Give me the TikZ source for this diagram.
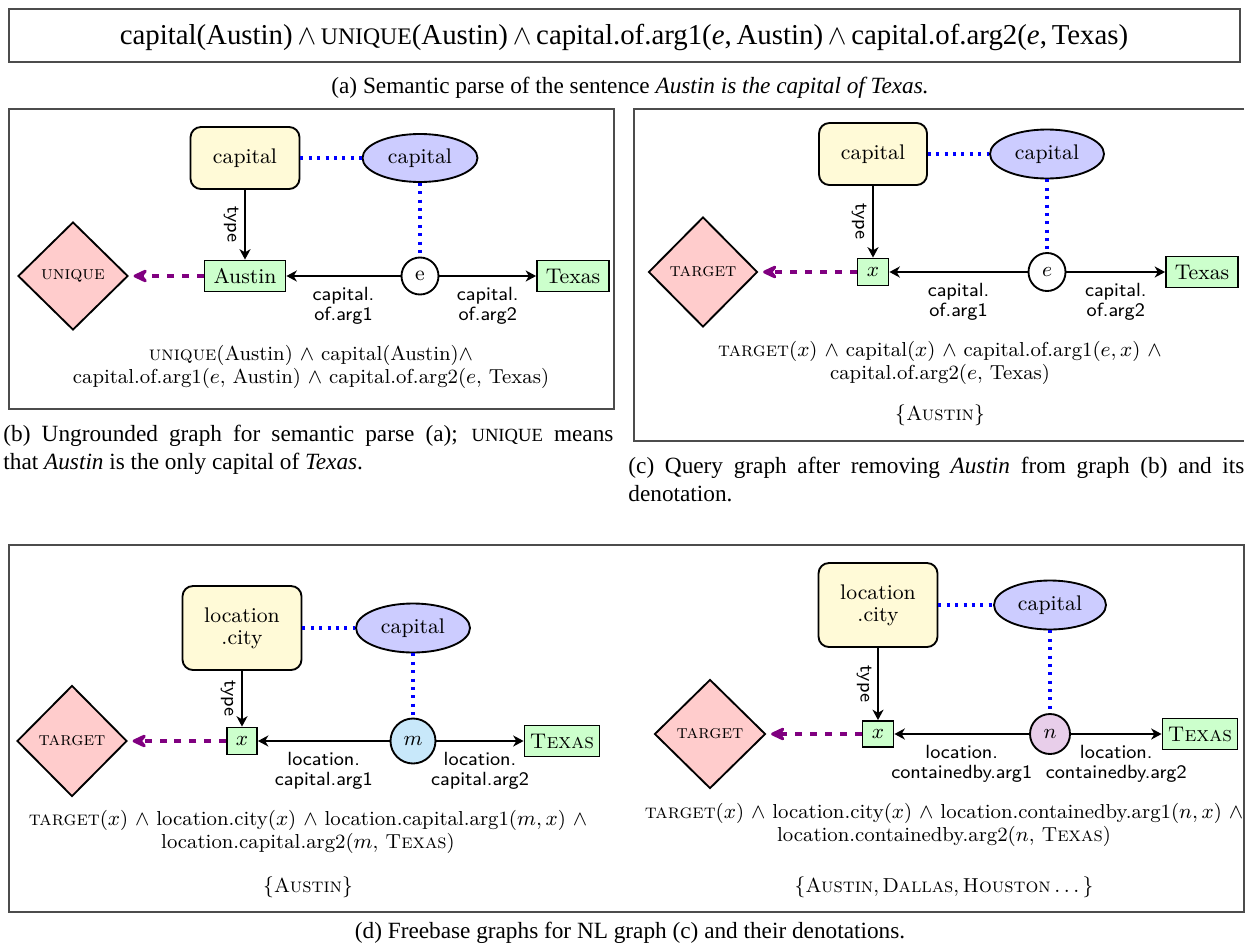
\documentclass[tikz,border=0pt]{standalone}
\usepackage{fontspec}
\newfontfamily\capfont{Liberation Serif}
\usetikzlibrary{shapes.geometric,arrows.meta}
\definecolor{ybox}{RGB}{255,250,215}
\definecolor{lav}{RGB}{204,204,255}
\definecolor{lgreen}{RGB}{204,255,204}
\definecolor{lpink}{RGB}{255,204,204}
\definecolor{lblue}{RGB}{200,232,250}
\definecolor{lpurple}{RGB}{232,206,234}
\definecolor{darkviolet}{RGB}{128,0,128}
\newcommand\nodefnt{\fontsize{9.1}{9.4}\selectfont}
\newcommand\formfnt{\fontsize{8.7}{9.6}\selectfont}
\newcommand\lblfnt{\sffamily\fontsize{8.2}{8.8}\selectfont}
\newcommand\capfnt{\capfont\fontsize{10}{12}\selectfont}
\newcommand\fsc[1]{{\fontsize{8}{12}\selectfont #1}}
\begin{document}
\begin{tikzpicture}[x=0.43pt,y=-0.43pt,
  sz/.style 2 args={minimum width=#1*0.43pt,minimum height=#2*0.43pt},
  basenode/.style={draw, line width=0.8pt, inner sep=0pt, font=\nodefnt, align=center},
  typebox/.style={basenode, rectangle, rounded corners=4.5pt, fill=ybox},
  relell/.style={basenode, ellipse, fill=lav},
  entbox/.style={basenode, rectangle, fill=lgreen},
  evnode/.style={basenode, ellipse},
  qdia/.style={basenode, diamond, fill=lpink},
  relarrow/.style={-{Stealth[length=4.5pt,width=4.8pt,inset=1.4pt]}, line width=0.6pt},
  dotblue/.style={blue, line width=1.4pt, dash pattern=on 1.3pt off 2.3pt},
  purparrow/.style={darkviolet, line width=1.6pt, dash pattern=on 3pt off 3.4pt, shorten >=2pt,
     -{Stealth[length=8pt,width=7.5pt,inset=3pt,round]}},
  elabel/.style={font=\lblfnt, align=center, below, inner sep=4.5pt},
  tlabel/.style={font=\lblfnt, sloped, below, inner sep=2.5pt},
  ftext/.style={font=\formfnt, align=center, inner sep=0pt},
  frm/.style={draw=black!70, line width=0.6pt},
  captxt/.style={font=\capfnt, inner sep=0pt}]
\useasboundingbox (0,0) rectangle (1245,948);
% ---------- (a) ----------
\draw[frm] (9,9) rectangle (1240,62);
\node[captxt] (a-form) at (624,37) {\capfont\fontsize{12.4}{14}\selectfont capital(Austin)\,$\wedge$\,{\fontsize{10.2}{12}\selectfont UNIQUE}(Austin)\,$\wedge$\,capital.of.arg1(\textit{e},\,Austin)\,$\wedge$\,capital.of.arg2(\textit{e},\,Texas)};
\node[captxt] (a-cap) at (630,88) {(a) Semantic parse of the sentence \textit{Austin is the capital of Texas.}};
% ---------- (b) ----------
\draw[frm] (9,109) rectangle (614,409);
\node[typebox, sz={109}{62}] (b-type) at (245,158) {capital};
\node[relell, sz={115}{48}] (b-rel) at (420,158) {capital};
\node[entbox, sz={81}{31}] (b-austin) at (245,276) {Austin};
\node[evnode, sz={37}{37}] (b-e) at (420,276) {e};
\node[entbox, sz={72}{31}] (b-texas) at (573,276) {Texas};
\node[qdia, sz={110}{108}] (b-uniq) at (73,276) {\fontsize{8.2}{9}\selectfont\textsc{unique}};
\draw[dotblue] (b-type) -- (b-rel);
\draw[dotblue] (b-rel) -- (b-e);
\draw[relarrow] (b-type) -- node[tlabel] {type} (b-austin);
\draw[relarrow] (b-e) -- node[elabel] {capital.\\of.arg1} (b-austin);
\draw[relarrow] (b-e) -- node[elabel] {capital.\\of.arg2} (b-texas);
\draw[purparrow] (b-austin) -- (b-uniq);
\node[ftext] (b-form) at (311,367) {\textsc{unique}(Austin) $\wedge$ capital(Austin)$\wedge$\\capital.of.arg1($e$, Austin) $\wedge$ capital.of.arg2($e$, Texas)};
\node[captxt, anchor=north west, text width=610*0.43pt, align=justify] (b-cap) at (3,425)
  {(b) Ungrounded graph for semantic parse (a); \fsc{UNIQUE} means\linebreak that \textit{Austin} is the only capital of \textit{Texas}.};
% ---------- (c) ----------
\draw[frm] (1244,109) -- (634,109) -- (634,441) -- (1244,441);
\node[typebox, sz={108}{62}] (c-type) at (873,154) {capital};
\node[relell, sz={114}{49}] (c-rel) at (1047,154) {capital};
\node[entbox, sz={31}{27}] (c-x) at (873,272) {$x$};
\node[evnode, sz={37}{38}] (c-e) at (1047,272) {$e$};
\node[entbox, sz={72}{31}] (c-texas) at (1202,272) {Texas};
\node[qdia, sz={109}{110}] (c-tgt) at (703,272) {\fontsize{8.2}{9}\selectfont\textsc{target}};
\draw[dotblue] (c-type) -- (c-rel);
\draw[dotblue] (c-rel) -- (c-e);
\draw[relarrow] (c-type) -- node[tlabel] {type} (c-x);
\draw[relarrow] (c-e) -- node[elabel] {capital.\\of.arg1} (c-x);
\draw[relarrow] (c-e) -- node[elabel] {capital.\\of.arg2} (c-texas);
\draw[purparrow] (c-x) -- (c-tgt);
\node[ftext] (c-form) at (940,363) {\textsc{target}($x$) $\wedge$ capital($x$) $\wedge$ capital.of.arg1($e, x$) $\wedge$\\capital.of.arg2($e$, Texas)};
\node[ftext] (c-den) at (940,415) {$\{$\textsc{Austin}$\}$};
\node[captxt, anchor=north west, text width=616*0.43pt, align=justify] (c-cap) at (628,457)
  {(c) Query graph after removing \textit{Austin} from graph (b) and its\linebreak denotation.};
% ---------- (d) ----------
\draw[frm] (9,545) rectangle (1244,912);
\node[typebox, sz={119}{84}] (dl-type) at (242,628) {location\\.city};
\node[relell, sz={114}{49}] (dl-rel) at (413,628) {capital};
\node[entbox, sz={30}{27}] (dl-x) at (242,741) {$x$};
\node[evnode, fill=lblue, sz={45}{45}] (dl-m) at (413,741) {$m$};
\node[entbox, sz={75}{31}] (dl-texas) at (562,741) {\textsc{Texas}};
\node[qdia, sz={110}{111}] (dl-tgt) at (72,741) {\fontsize{8.2}{9}\selectfont\textsc{target}};
\draw[dotblue] (dl-type) -- (dl-rel);
\draw[dotblue] (dl-rel) -- (dl-m);
\draw[relarrow] (dl-type) -- node[tlabel] {type} (dl-x);
\draw[relarrow] (dl-m) -- node[elabel] {location.\\capital.arg1} (dl-x);
\draw[relarrow] (dl-m) -- node[elabel] {location.\\capital.arg2} (dl-texas);
\draw[purparrow] (dl-x) -- (dl-tgt);
\node[ftext] (dl-form) at (308,832) {\textsc{target}($x$) $\wedge$ location.city($x$) $\wedge$ location.capital.arg1($m, x$) $\wedge$\\location.capital.arg2($m$, \textsc{Texas})};
\node[ftext] (dl-den) at (308,887) {$\{$\textsc{Austin}$\}$};
\node[typebox, sz={119}{84}] (dr-type) at (878,605) {location\\.city};
\node[relell, sz={112}{49}] (dr-rel) at (1050,605) {capital};
\node[entbox, sz={31}{26}] (dr-x) at (878,734) {$x$};
\node[evnode, fill=lpurple, sz={40}{40}] (dr-n) at (1050,734) {$n$};
\node[entbox, sz={75}{31}] (dr-texas) at (1200,734) {\textsc{Texas}};
\node[qdia, sz={111}{109}] (dr-tgt) at (710,734) {\fontsize{8.2}{9}\selectfont\textsc{target}};
\draw[dotblue] (dr-type) -- (dr-rel);
\draw[dotblue] (dr-rel) -- (dr-n);
\draw[relarrow] (dr-type) -- node[tlabel] {type} (dr-x);
\draw[relarrow] (dr-n) -- node[elabel] {location.\\containedby.arg1} (dr-x);
\draw[relarrow] (dr-n) -- node[elabel] {location.\\containedby.arg2} (dr-texas);
\draw[purparrow] (dr-x) -- (dr-tgt);
\node[ftext] (dr-form) at (944,825) {\textsc{target}($x$) $\wedge$ location.city($x$) $\wedge$ location.containedby.arg1($n, x$) $\wedge$\\location.containedby.arg2($n$, \textsc{Texas})};
\node[ftext] (dr-den) at (944,887) {$\{$\textsc{Austin},\,\textsc{Dallas},\,\textsc{Houston}\,$\ldots$\,$\}$};
\node[captxt] (d-cap) at (630,933) {(d) Freebase graphs for NL graph (c) and their denotations.};
\end{tikzpicture}
\end{document}
